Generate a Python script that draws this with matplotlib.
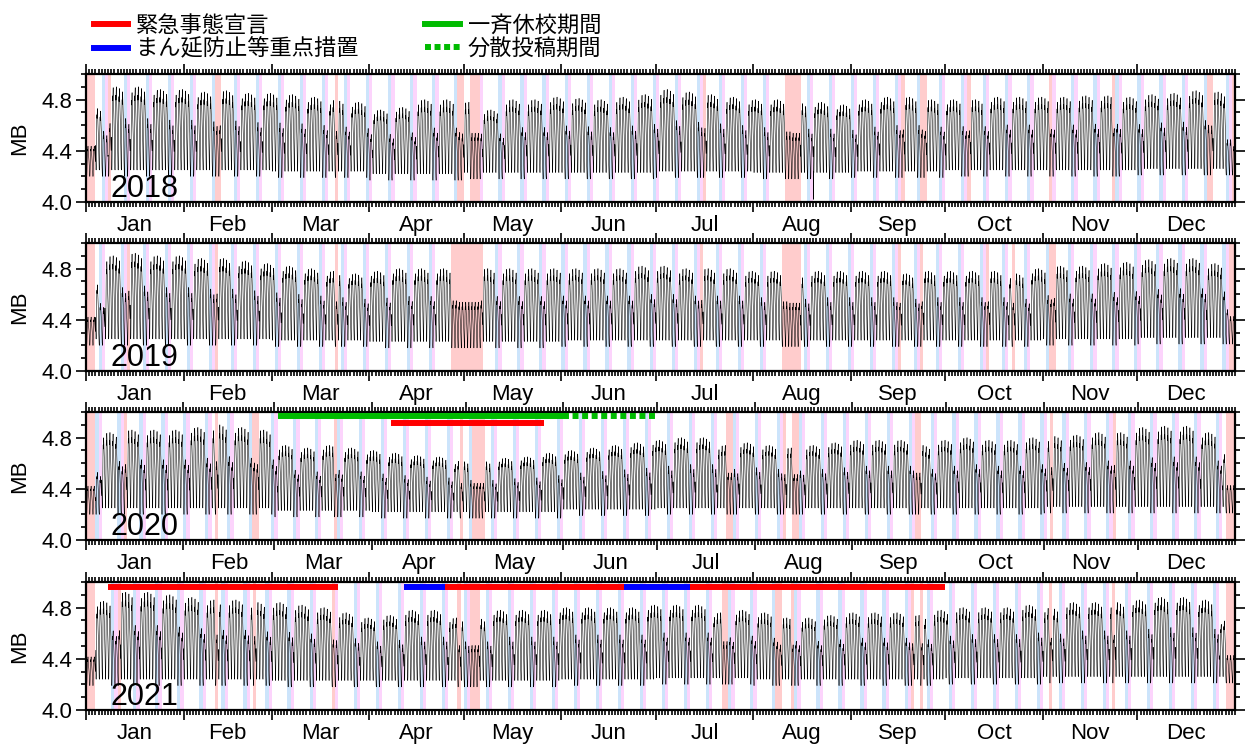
import calendar
import datetime

import matplotlib
matplotlib.use('Agg')
import matplotlib.pyplot as plt
import numpy as np
from matplotlib.lines import Line2D

plt.rcParams['font.family'] = ['Liberation Sans', 'Noto Sans CJK JP']

years = [2018, 2019, 2020, 2021]
month_names = ['Jan', 'Feb', 'Mar', 'Apr', 'May', 'Jun',
               'Jul', 'Aug', 'Sep', 'Oct', 'Nov', 'Dec']

# weekday peak level for each Monday-start week (53 weeks per year)
peaks = {
    2018: [4.74, 4.90, 4.90, 4.88, 4.88, 4.86, 4.87, 4.85, 4.85, 4.84,
           4.82, 4.80, 4.78, 4.72, 4.74, 4.80, 4.80, 4.78, 4.72, 4.80,
           4.80, 4.82, 4.81, 4.80, 4.82, 4.84, 4.88, 4.86, 4.84, 4.82,
           4.80, 4.80, 4.78, 4.78, 4.76, 4.80, 4.82, 4.82, 4.80, 4.80,
           4.80, 4.82, 4.82, 4.82, 4.82, 4.83, 4.83, 4.82, 4.84, 4.85,
           4.87, 4.86, 4.72],
    2019: [4.70, 4.90, 4.92, 4.90, 4.90, 4.88, 4.88, 4.86, 4.84, 4.82,
           4.80, 4.78, 4.76, 4.78, 4.80, 4.80, 4.80, 4.78, 4.80, 4.80,
           4.80, 4.80, 4.80, 4.80, 4.80, 4.82, 4.82, 4.80, 4.80, 4.80,
           4.78, 4.78, 4.76, 4.78, 4.78, 4.78, 4.78, 4.76, 4.78, 4.78,
           4.78, 4.78, 4.76, 4.80, 4.82, 4.82, 4.84, 4.85, 4.87, 4.88,
           4.88, 4.84, 4.70],
    2020: [4.70, 4.84, 4.86, 4.86, 4.86, 4.88, 4.90, 4.88, 4.86, 4.74,
           4.72, 4.74, 4.72, 4.70, 4.68, 4.66, 4.65, 4.62, 4.62, 4.64,
           4.65, 4.68, 4.70, 4.72, 4.74, 4.76, 4.78, 4.80, 4.80, 4.74,
           4.76, 4.74, 4.72, 4.74, 4.76, 4.78, 4.78, 4.78, 4.74, 4.78,
           4.80, 4.78, 4.78, 4.80, 4.81, 4.82, 4.84, 4.84, 4.88, 4.89,
           4.89, 4.84, 4.70],
    2021: [4.70, 4.85, 4.92, 4.92, 4.90, 4.88, 4.86, 4.86, 4.84, 4.84,
           4.82, 4.80, 4.76, 4.72, 4.74, 4.78, 4.78, 4.72, 4.72, 4.78,
           4.78, 4.78, 4.80, 4.80, 4.80, 4.80, 4.82, 4.82, 4.82, 4.76,
           4.78, 4.76, 4.72, 4.72, 4.74, 4.76, 4.76, 4.76, 4.74, 4.78,
           4.80, 4.80, 4.80, 4.82, 4.80, 4.84, 4.84, 4.84, 4.86, 4.88,
           4.88, 4.86, 4.70],
}

# weekday night-time low for each month
troughs = {
    2018: [4.25, 4.25, 4.24, 4.22, 4.23, 4.23, 4.24, 4.23, 4.24, 4.25, 4.25, 4.26],
    2019: [4.25, 4.25, 4.24, 4.23, 4.23, 4.24, 4.24, 4.24, 4.24, 4.24, 4.25, 4.26],
    2020: [4.25, 4.25, 4.23, 4.22, 4.22, 4.24, 4.25, 4.25, 4.25, 4.25, 4.26, 4.26],
    2021: [4.24, 4.24, 4.23, 4.23, 4.23, 4.24, 4.25, 4.24, 4.24, 4.25, 4.26, 4.26],
}

holidays = {
    2018: ['01-01', '01-02', '01-03', '01-08', '02-11', '02-12', '03-21',
           '04-29', '04-30', '05-03', '05-04', '05-05', '07-16', '08-11',
           '08-12', '08-13', '08-14', '08-15', '09-17', '09-23', '09-24',
           '10-08', '11-03', '11-23', '12-23', '12-24', '12-31'],
    2019: ['01-01', '01-02', '01-03', '01-14', '02-11', '03-21', '04-27',
           '04-28', '04-29', '04-30', '05-01', '05-02', '05-03', '05-04',
           '05-05', '05-06', '07-15', '08-10', '08-11', '08-12', '08-13',
           '08-14', '08-15', '09-16', '09-23', '10-14', '10-22', '11-03',
           '11-04', '12-30', '12-31'],
    2020: ['01-01', '01-02', '01-03', '01-13', '02-11', '02-23', '02-24',
           '03-20', '04-29', '05-03', '05-04', '05-05', '05-06', '07-23',
           '07-24', '08-10', '08-13', '08-14', '09-21', '09-22', '11-03',
           '11-23', '12-29', '12-30', '12-31'],
    2021: ['01-01', '01-02', '01-03', '01-11', '02-11', '02-23', '03-20',
           '04-29', '05-03', '05-04', '05-05', '07-22', '07-23', '08-08',
           '08-09', '08-13', '09-20', '09-23', '11-03', '11-23', '12-29',
           '12-30', '12-31'],
}
year_end_days = ['01-01', '01-02', '01-03', '12-29', '12-30', '12-31']

# single odd readings (date, hour, value)
outliers = {2018: [('08-20', 3, 4.02)]}

# share of the low-to-peak range reached in each hour of a day
day_shape = [0.40, 0.28, 0.16, 0.07, 0.02, 0.0, 0.05, 0.20, 0.48, 0.72,
             0.84, 0.90, 0.84, 0.92, 0.97, 1.0, 0.94, 0.86, 0.78, 0.72,
             0.66, 0.62, 0.57, 0.49]
# Mon..Sun share of the weekday peak, and for holidays / new year days
week_share = [0.93, 0.99, 1.0, 0.98, 0.94, 0.62, 0.55]
holiday_share = 0.56
year_end_share = 0.38

# (year, start, end)
emergency = [(2020, '04-07', '05-25'), (2021, '01-08', '03-21'),
             (2021, '04-25', '06-20'), (2021, '07-12', '09-30')]
priority = [(2021, '04-12', '04-24'), (2021, '06-21', '07-11')]
school_closed = [(2020, '03-02', '05-31')]
school_split = [(2020, '06-01', '06-30')]


def doy(year, md):
    m, d = map(int, md.split('-'))
    return (datetime.date(year, m, d) - datetime.date(year, 1, 1)).days


def build_year(year):
    n = 366 if calendar.isleap(year) else 365
    jan1 = datetime.date(year, 1, 1)
    off = jan1.weekday()
    hol = set(doy(year, h) for h in holidays[year])
    ye = set(doy(year, h) for h in year_end_days)
    xs, ys = [], []
    for d in range(n):
        date = jan1 + datetime.timedelta(days=d)
        wd = date.weekday()
        P = peaks[year][(d + off) // 7]
        T = troughs[year][date.month - 1]
        if d in ye:
            share = year_end_share
        elif d in hol:
            share = holiday_share
        else:
            share = week_share[wd]
        low = T - 0.05 if (d in hol or wd >= 5) else T
        top = T + share * (P - T)
        for h, f in enumerate(day_shape):
            xs.append(d + h / 24.0)
            ys.append(low + f * (top - low))
    ys = np.array(ys)
    for md, h, v in outliers.get(year, []):
        ys[doy(year, md) * 24 + h] = v
    return np.array(xs), ys, n


fig = plt.figure(figsize=(12.45, 7.46), dpi=100)
bottoms = [0.7292, 0.5027, 0.2761, 0.0483]
for year, b in zip(years, bottoms):
    ax = fig.add_axes([0.0691, b, 0.9229, 0.1716])
    x, y, n = build_year(year)
    jan1 = datetime.date(year, 1, 1)
    hol = set(doy(year, h) for h in holidays[year])

    for d in range(n):
        wd = (jan1 + datetime.timedelta(days=d)).weekday()
        if d in hol:
            c = '#ffcccc'
        elif wd == 5:
            c = '#cce4fb'
        elif wd == 6:
            c = '#fcd4fc'
        else:
            continue
        ax.axvspan(d, d + 1, color=c, lw=0, zorder=0)

    ax.plot(x, y, color='black', lw=0.38, zorder=2)

    for periods, color, level, ls in [
            (school_closed, '#00bb00', 4.967, '-'),
            (school_split, '#00bb00', 4.967, (0, (1.0, 0.6))),
            (emergency, '#ff0000', 4.915 if year == 2020 else 4.962, '-'),
            (priority, '#0000ff', 4.962, '-')]:
        for yr, s, e in periods:
            if yr == year:
                ax.plot([doy(year, s), doy(year, e) + 1], [level, level],
                        color=color, lw=4.3, ls=ls, solid_capstyle='butt',
                        dash_capstyle='butt', zorder=3)

    ax.set_xlim(0, n)
    ax.set_ylim(4.0, 5.0)
    starts = [doy(year, '%02d-01' % m) for m in range(1, 13)]
    ax.set_xticks(starts)
    ax.set_xticklabels([])
    ax.set_xticks(np.arange(0, n + 1), minor=True)
    ends = starts[1:] + [n]
    for s, e, name in zip(starts, ends, month_names):
        ax.text((s + e) / 2, -0.18, name, transform=ax.get_xaxis_transform(),
                ha='center', va='center', fontsize=16)
    ax.set_yticks([4.0, 4.4, 4.8])
    ax.set_yticklabels(['4.0', '4.4', '4.8'], fontsize=16)
    ax.set_yticks(np.arange(4.0, 5.01, 0.1), minor=True)
    ax.tick_params(which='both', direction='out', top=True, right=True, width=1.2)
    ax.tick_params(which='major', length=7, pad=3)
    ax.tick_params(which='minor', length=3.5)
    for sp in ax.spines.values():
        sp.set_linewidth(1.6)
    ax.set_ylabel('MB', fontsize=16, labelpad=8)
    ax.text(0.021, 0.04, str(year), transform=ax.transAxes, fontsize=22,
            ha='left', va='baseline', zorder=4)

handles = [
    Line2D([], [], color='#ff0000', lw=4.3),
    Line2D([], [], color='#0000ff', lw=4.3),
    Line2D([], [], color='#00bb00', lw=4.3),
    Line2D([], [], color='#00bb00', lw=4.3, ls=(0, (1.0, 0.6))),
]
labels = ['緊急事態宣言', 'まん延防止等重点措置', '一斉休校期間', '分散投稿期間']
fig.legend(handles, labels, ncol=2, loc='upper left', bbox_to_anchor=(0.063, 1.0),
           frameon=False, fontsize=16, handlelength=1.55, handletextpad=0.35,
           columnspacing=3.0, labelspacing=0.1, borderpad=0.2)

fig.savefig('out.png', dpi=100)
